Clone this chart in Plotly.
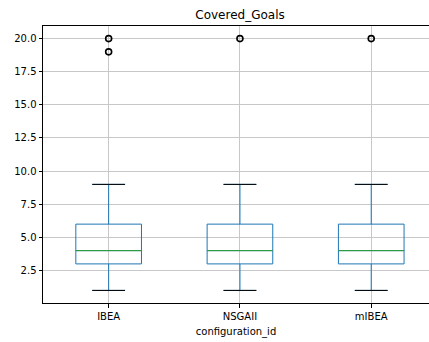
import plotly.graph_objects as go

categories = ["IBEA", "NSGAII", "mIBEA"]
q1 = [3, 3, 3]
medians = [4, 4, 4]
q3 = [6, 6, 6]
lower_whisker = [1, 1, 1]
upper_whisker = [9, 9, 9]
outliers = [[19, 20], [20], [20]]
y_ticks = [2.5, 5.0, 7.5, 10.0, 12.5, 15.0, 17.5, 20.0]

pos = [1, 2, 3]
box_w = 0.5
cap_w = 0.25
blue = "#1f77b4"
green = "#2ca02c"

fig = go.Figure()
fig.add_trace(go.Box(
    x=pos, q1=q1, median=medians, q3=q3,
    lowerfence=lower_whisker, upperfence=upper_whisker,
    width=box_w, whiskerwidth=cap_w / box_w,
    line=dict(color=blue, width=1), fillcolor="rgba(0,0,0,0)",
    boxpoints=False, showlegend=False, hoverinfo="skip",
))
# medians (green)
mx, my = [], []
for p, m in zip(pos, medians):
    mx += [p - box_w / 2, p + box_w / 2, None]
    my += [m, m, None]
fig.add_trace(go.Scatter(x=mx, y=my, mode="lines", line=dict(color=green, width=1),
                         showlegend=False, hoverinfo="skip"))
# caps (black)
cx, cy = [], []
for p, lo, hi in zip(pos, lower_whisker, upper_whisker):
    cx += [p - cap_w / 2, p + cap_w / 2, None, p - cap_w / 2, p + cap_w / 2, None]
    cy += [lo, lo, None, hi, hi, None]
fig.add_trace(go.Scatter(x=cx, y=cy, mode="lines", line=dict(color="black", width=1),
                         showlegend=False, hoverinfo="skip"))
# outliers
ox, oy = [], []
for p, outs in zip(pos, outliers):
    for o in outs:
        ox.append(p)
        oy.append(o)
fig.add_trace(go.Scatter(x=ox, y=oy, mode="markers",
                         marker=dict(symbol="circle-open", size=6, color="black",
                                     line=dict(width=1.6, color="black")),
                         showlegend=False, hoverinfo="skip"))

font = "DejaVu Sans, sans-serif"
fig.update_layout(
    width=429, height=342,
    margin=dict(l=43, r=0, t=26, b=39),
    paper_bgcolor="white", plot_bgcolor="white",
    font=dict(family=font, size=10, color="black"),
    title=dict(text="Covered_Goals", x=240 / 429, xanchor="center", y=1 - 15 / 342,
               yanchor="middle", font=dict(size=12, family=font, color="black")),
    xaxis=dict(range=[0.5, 3.44], tickvals=pos, ticktext=categories,
               showgrid=True, gridcolor="#c8c8c8", gridwidth=1,
               showline=True, linecolor="black", linewidth=1, mirror=True,
               ticks="outside", ticklen=3.5, tickcolor="black", zeroline=False,
               title=dict(text="configuration_id", font=dict(size=10), standoff=7)),
    yaxis=dict(range=[0.05, 20.95], tickvals=y_ticks, tickformat=".1f",
               showgrid=True, gridcolor="#c8c8c8", gridwidth=1,
               showline=True, linecolor="black", linewidth=1, mirror=False,
               ticks="outside", ticklen=3.5, tickcolor="black", zeroline=False),
)

fig.write_html("out.html")
